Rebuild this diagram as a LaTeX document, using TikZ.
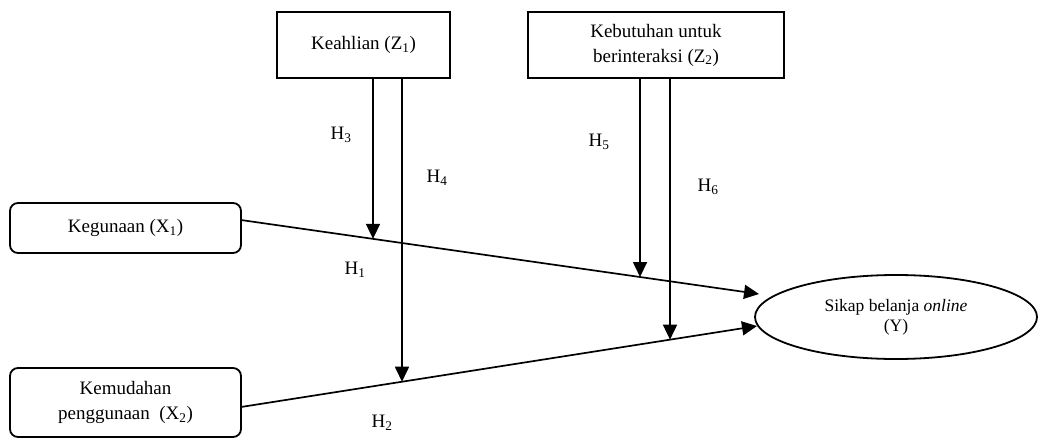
\documentclass[tikz,border=0pt]{standalone}
\usepackage{fontspec}
\setmainfont{Liberation Serif}
\usetikzlibrary{arrows.meta,shapes.geometric,calc}
\begin{document}
\begin{tikzpicture}[x=1pt,y=-1pt,
  txt/.style={font=\fontsize{19}{25}\selectfont},
  box/.style={draw, line width=1.8pt, txt, align=center, inner sep=0pt},
  rbox/.style={box, rounded corners=8pt},
  arr/.style={-{Triangle[length=15pt,width=14pt]}, line width=1.7pt},
  lab/.style={txt, inner sep=0pt}]
\useasboundingbox (0,0) rectangle (1038,439);
% boxes
\node[box, minimum width=173pt, minimum height=66pt] (z1) at (363.5,45) {Keahlian (Z\textsubscript{1})};
\node[box, minimum width=256pt, minimum height=66pt] (z2) at (656,45) {Kebutuhan untuk\\berinteraksi (Z\textsubscript{2})};
\node[rbox, minimum width=231pt, minimum height=50pt] (x1) at (125.5,228) {Kegunaan (X\textsubscript{1})};
\node[rbox, minimum width=231pt, minimum height=69pt] (x2) at (125.5,402.5) {Kemudahan\\penggunaan\ \ (X\textsubscript{2})};
\node[draw, ellipse, line width=1.8pt, minimum width=282pt, minimum height=84pt, inner sep=0pt,
      align=center, font=\fontsize{17.5}{20}\selectfont] (y) at (896,317) {Sikap belanja \textit{online}\\(Y)};
% main paths
\coordinate (a1) at (241,220);
\coordinate (b1) at (759,294);
\coordinate (a2) at (241,407);
\coordinate (b2) at (757,326);
\draw[arr] (a1) -- (b1);
\draw[arr] (a2) -- (b2);
% moderation targets
\coordinate (t3) at ($(a1)!0.2548!(b1)$);
\coordinate (t5) at ($(a1)!0.7703!(b1)$);
\coordinate (t4) at ($(a2)!0.312!(b2)$);
\coordinate (t6) at ($(a2)!0.8314!(b2)$);
\draw[arr] (z1.south -| t3) -- (t3);
\draw[arr] (z1.south -| t4) -- (t4);
\draw[arr] (z2.south -| t5) -- (t5);
\draw[arr] (z2.south -| t6) -- (t6);
% labels
\node[lab] (h1) at (355,270) {H\textsubscript{1}};
\node[lab] (h2) at (382,423) {H\textsubscript{2}};
\node[lab] (h3) at (341,135) {H\textsubscript{3}};
\node[lab] (h4) at (437,178) {H\textsubscript{4}};
\node[lab] (h5) at (599,142) {H\textsubscript{5}};
\node[lab] (h6) at (708,187) {H\textsubscript{6}};
\end{tikzpicture}
\end{document}
